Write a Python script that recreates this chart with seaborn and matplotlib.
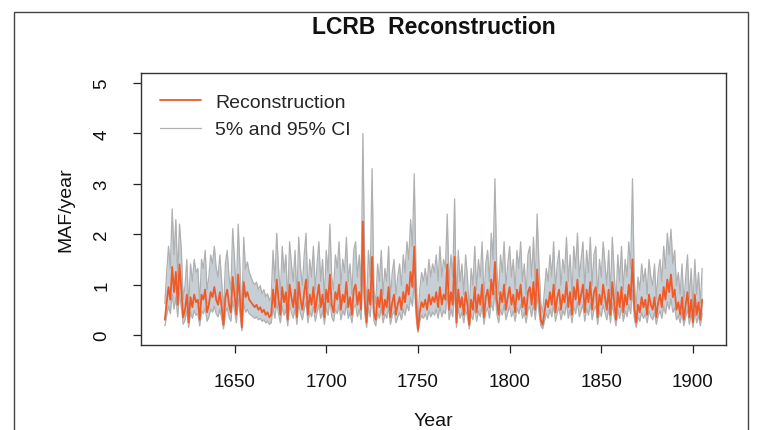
import numpy as np
import pandas as pd
import matplotlib
matplotlib.use("Agg")
import matplotlib.pyplot as plt
from matplotlib.lines import Line2D
from matplotlib.patches import Rectangle
import seaborn as sns

start_year = 1612
recon = [
    0.30, 0.65, 0.95, 0.70, 1.35, 0.85, 1.25, 0.60, 1.40, 0.90,
    0.35, 0.50, 0.80, 0.25, 0.75, 0.55, 0.80, 0.65, 0.70, 0.30,
    0.80, 0.70, 0.90, 0.45, 0.60, 0.85, 0.75, 0.95, 0.70, 0.60,
    0.85, 0.55, 0.20, 0.75, 0.90, 0.60, 0.45, 1.15, 0.80, 0.40,
    1.20, 0.70, 0.15, 1.05, 0.75, 0.85, 0.70, 0.65, 0.60, 0.55,
    0.60, 0.50, 0.55, 0.45, 0.50, 0.40, 0.45, 0.35, 0.40, 0.90,
    0.55, 1.10, 0.70, 0.40, 0.95, 0.65, 0.85, 0.30, 1.00, 0.75,
    0.55, 0.90, 0.35, 1.05, 0.70, 0.50, 0.85, 1.10, 0.40, 0.80,
    0.60, 0.95, 0.45, 0.75, 1.00, 0.55, 0.80, 0.35, 0.90, 0.65,
    1.20, 0.60, 0.45, 0.85, 0.70, 1.00, 0.50, 0.80, 0.65, 1.05,
    0.55, 0.75, 0.40, 0.90, 1.00, 0.60, 0.85, 0.50, 2.25, 0.70,
    0.25, 0.90, 0.60, 1.55, 0.45, 0.30, 0.75, 0.55, 0.90, 0.40,
    0.70, 0.55, 0.95, 0.35, 0.65, 0.80, 0.40, 0.60, 0.75, 0.50,
    0.85, 0.65, 1.00, 0.80, 1.25, 0.95, 1.75, 0.60, 0.10, 0.45,
    0.65, 0.55, 0.70, 0.50, 0.80, 0.60, 0.75, 0.65, 0.85, 0.55,
    0.95, 0.60, 0.80, 0.70, 1.40, 0.50, 0.85, 0.60, 1.55, 0.25,
    0.90, 0.55, 0.75, 0.40, 0.85, 0.60, 0.20, 0.70, 0.50, 0.95,
    0.45, 0.80, 0.60, 1.00, 0.35, 0.75, 0.90, 0.55, 1.10, 0.80,
    1.45, 0.70, 0.40, 0.85, 0.65, 1.00, 0.50, 0.75, 0.95, 0.60,
    0.80, 0.45, 0.90, 0.70, 1.00, 0.55, 0.75, 0.40, 0.85, 0.95,
    0.60, 1.05, 0.50, 1.30, 0.75, 0.30, 0.20, 0.45, 0.70, 0.55,
    0.85, 0.60, 1.00, 0.45, 0.75, 0.90, 0.50, 0.80, 0.65, 1.05,
    0.55, 0.85, 0.40, 0.95, 0.70, 1.10, 0.60, 0.80, 1.00, 0.45,
    0.90, 0.65, 1.05, 0.50, 0.85, 0.95, 0.35, 0.80, 0.60, 1.00,
    0.75, 0.50, 0.90, 0.40, 1.05, 0.65, 0.30, 0.85, 0.55, 0.95,
    0.45, 0.80, 0.60, 1.00, 0.70, 1.50, 0.55, 0.25, 0.60, 0.45,
    0.75, 0.55, 0.70, 0.40, 0.80, 0.60, 0.50, 0.75, 0.35, 0.65,
    0.80, 0.55, 0.95, 0.70, 1.10, 0.85, 1.20, 0.75, 0.90, 0.50,
    0.65, 0.40, 0.75, 0.30, 0.60, 0.85, 0.35, 0.70, 0.25, 0.80,
    0.40, 0.65, 0.30, 0.70,
]
upper = [
    0.62, 1.24, 1.76, 1.32, 2.50, 1.59, 2.29, 1.15, 2.20, 1.68,
    0.71, 0.98, 1.50, 0.54, 1.41, 1.06, 1.50, 1.24, 1.32, 0.62,
    1.50, 1.32, 1.68, 0.89, 1.15, 1.59, 1.41, 1.76, 1.32, 1.15,
    1.59, 1.06, 0.45, 1.41, 1.68, 1.15, 0.89, 2.11, 1.50, 0.80,
    2.20, 1.32, 0.36, 1.94, 1.30, 1.45, 1.25, 1.15, 1.05, 1.00,
    1.05, 0.90, 0.98, 0.82, 0.90, 0.75, 0.82, 0.68, 0.75, 1.68,
    1.06, 2.02, 1.32, 0.80, 1.76, 1.24, 1.59, 0.62, 1.85, 1.41,
    1.06, 1.68, 0.71, 1.94, 1.32, 0.98, 1.59, 2.02, 0.80, 1.50,
    1.15, 1.76, 0.89, 1.41, 1.85, 1.06, 1.50, 0.71, 1.68, 1.24,
    2.20, 1.15, 0.89, 1.59, 1.32, 1.85, 0.98, 1.50, 1.24, 1.94,
    1.06, 1.41, 0.80, 1.68, 1.85, 1.15, 1.59, 0.98, 4.00, 1.32,
    0.54, 1.68, 1.15, 3.30, 0.89, 0.62, 1.41, 1.06, 1.68, 0.80,
    1.32, 1.06, 1.76, 0.71, 1.24, 1.50, 0.80, 1.15, 1.41, 0.98,
    1.59, 1.24, 1.85, 1.50, 2.29, 1.76, 3.20, 1.15, 0.28, 0.89,
    1.24, 1.06, 1.32, 0.98, 1.50, 1.15, 1.41, 1.24, 1.59, 1.06,
    1.76, 1.15, 1.50, 1.32, 2.40, 0.98, 1.59, 1.15, 2.70, 0.54,
    1.68, 1.06, 1.41, 0.80, 1.59, 1.15, 0.45, 1.32, 0.98, 1.76,
    0.89, 1.50, 1.15, 1.85, 0.71, 1.41, 1.68, 1.06, 2.02, 1.50,
    3.10, 1.32, 0.80, 1.59, 1.24, 1.85, 0.98, 1.41, 1.76, 1.15,
    1.50, 0.89, 1.68, 1.32, 1.85, 1.06, 1.41, 0.80, 1.59, 1.76,
    1.15, 1.94, 0.98, 2.40, 1.41, 0.62, 0.45, 0.89, 1.32, 1.06,
    1.59, 1.15, 1.85, 0.89, 1.41, 1.68, 0.98, 1.50, 1.24, 1.94,
    1.06, 1.59, 0.80, 1.76, 1.32, 2.02, 1.15, 1.50, 1.85, 0.89,
    1.68, 1.24, 1.94, 0.98, 1.59, 1.76, 0.71, 1.50, 1.15, 1.85,
    1.41, 0.98, 1.68, 0.80, 1.94, 1.24, 0.62, 1.59, 1.06, 1.76,
    0.89, 1.50, 1.15, 1.85, 1.32, 3.10, 1.06, 0.54, 1.15, 0.89,
    1.41, 1.06, 1.32, 0.80, 1.50, 1.15, 0.98, 1.41, 0.71, 1.24,
    1.50, 1.06, 1.76, 1.32, 2.02, 1.59, 2.10, 1.41, 1.68, 0.98,
    1.24, 0.80, 1.41, 0.62, 1.15, 1.59, 0.71, 1.32, 0.54, 1.50,
    0.80, 1.24, 0.62, 1.32,
]
lower = [
    0.18, 0.39, 0.57, 0.42, 0.81, 0.51, 0.75, 0.36, 0.84, 0.54,
    0.21, 0.30, 0.48, 0.15, 0.45, 0.33, 0.48, 0.39, 0.42, 0.18,
    0.48, 0.42, 0.54, 0.27, 0.36, 0.51, 0.45, 0.57, 0.42, 0.36,
    0.51, 0.33, 0.12, 0.45, 0.54, 0.36, 0.27, 0.69, 0.48, 0.24,
    0.72, 0.42, 0.08, 0.63, 0.45, 0.51, 0.42, 0.39, 0.36, 0.33,
    0.36, 0.30, 0.33, 0.27, 0.30, 0.24, 0.27, 0.21, 0.24, 0.54,
    0.33, 0.66, 0.42, 0.24, 0.57, 0.39, 0.51, 0.18, 0.60, 0.45,
    0.33, 0.54, 0.21, 0.63, 0.42, 0.30, 0.51, 0.66, 0.24, 0.48,
    0.36, 0.57, 0.27, 0.45, 0.60, 0.33, 0.48, 0.21, 0.54, 0.39,
    0.72, 0.36, 0.27, 0.51, 0.42, 0.60, 0.30, 0.48, 0.39, 0.63,
    0.33, 0.45, 0.24, 0.54, 0.60, 0.36, 0.51, 0.30, 1.35, 0.42,
    0.15, 0.54, 0.36, 0.93, 0.27, 0.18, 0.45, 0.33, 0.54, 0.24,
    0.42, 0.33, 0.57, 0.21, 0.39, 0.48, 0.24, 0.36, 0.45, 0.30,
    0.51, 0.39, 0.60, 0.48, 0.75, 0.57, 1.05, 0.36, 0.05, 0.27,
    0.39, 0.33, 0.42, 0.30, 0.48, 0.36, 0.45, 0.39, 0.51, 0.33,
    0.57, 0.36, 0.48, 0.42, 0.84, 0.30, 0.51, 0.36, 0.93, 0.15,
    0.54, 0.33, 0.45, 0.24, 0.51, 0.36, 0.12, 0.42, 0.30, 0.57,
    0.27, 0.48, 0.36, 0.60, 0.21, 0.45, 0.54, 0.33, 0.66, 0.48,
    0.87, 0.42, 0.24, 0.51, 0.39, 0.60, 0.30, 0.45, 0.57, 0.36,
    0.48, 0.27, 0.54, 0.42, 0.60, 0.33, 0.45, 0.24, 0.51, 0.57,
    0.36, 0.63, 0.30, 0.78, 0.45, 0.18, 0.12, 0.27, 0.42, 0.33,
    0.51, 0.36, 0.60, 0.27, 0.45, 0.54, 0.30, 0.48, 0.39, 0.63,
    0.33, 0.51, 0.24, 0.57, 0.42, 0.66, 0.36, 0.48, 0.60, 0.27,
    0.54, 0.39, 0.63, 0.30, 0.51, 0.57, 0.21, 0.48, 0.36, 0.60,
    0.45, 0.30, 0.54, 0.24, 0.63, 0.39, 0.18, 0.51, 0.33, 0.57,
    0.27, 0.48, 0.36, 0.60, 0.42, 0.90, 0.33, 0.15, 0.36, 0.27,
    0.45, 0.33, 0.42, 0.24, 0.48, 0.36, 0.30, 0.45, 0.21, 0.39,
    0.48, 0.33, 0.57, 0.42, 0.66, 0.51, 0.72, 0.45, 0.54, 0.30,
    0.39, 0.24, 0.45, 0.18, 0.36, 0.51, 0.21, 0.42, 0.15, 0.48,
    0.24, 0.39, 0.18, 0.42,
]
years = list(range(start_year, start_year + len(recon)))
x_ticks = [1650, 1700, 1750, 1800, 1850, 1900]
y_ticks = [0, 1, 2, 3, 4, 5]
title = "LCRB  Reconstruction"
legend_labels = ["Reconstruction", "5% and 95% CI"]

df = pd.DataFrame({"Year": years, "recon": recon, "upper": upper, "lower": lower})

sns.set_style("ticks")
plt.rcParams["font.family"] = ["Liberation Sans", "DejaVu Sans"]

RED = "#f05a28"
GRAY = "#b0b0b0"
FILL = "#c6cfd5"

fig = plt.figure(figsize=(7.62, 4.31), dpi=100)
ax = fig.add_axes([141 / 762, 85 / 431, 585 / 762, 272 / 431])

ax.fill_between(df["Year"], df["lower"], df["upper"], color=FILL, lw=0, zorder=1)
sns.lineplot(data=df, x="Year", y="upper", ax=ax, color=GRAY, lw=0.9, zorder=2)
sns.lineplot(data=df, x="Year", y="lower", ax=ax, color=GRAY, lw=0.9, zorder=2)
sns.lineplot(data=df, x="Year", y="recon", ax=ax, color=RED, lw=1.3, zorder=3)

ax.set_xlim(1599, 1918)
ax.set_ylim(-0.2, 5.2)
ax.set_xticks(x_ticks)
ax.set_yticks(y_ticks)
ax.set_xticklabels([str(v) for v in x_ticks])
ax.set_yticklabels([str(v) for v in y_ticks], rotation=90, va="center")
ax.tick_params(axis="both", direction="out", length=6, width=0.9, colors="#222222",
               labelsize=13.5, labelcolor="#111111")
ax.tick_params(axis="x", pad=14)
ax.tick_params(axis="y", pad=16)
for sp in ax.spines.values():
    sp.set_visible(True)
    sp.set_color("#333333")
    sp.set_linewidth(1.0)
ax.set_xlabel("")
ax.set_ylabel("MAF/year", fontsize=14, color="#111111", labelpad=14)

handles = [Line2D([], [], color=RED, lw=1.3), Line2D([], [], color=GRAY, lw=0.9)]
ax.legend(handles, legend_labels, loc="upper left", bbox_to_anchor=(0.032, 0.925),
          frameon=False, fontsize=14, handlelength=2.1, handletextpad=0.75,
          labelspacing=0.5, borderpad=0, borderaxespad=0)

fig.text(0.5 * (141 + 726) / 762, (431 - 27) / 431, title, ha="center", va="center",
         fontsize=16.5, fontweight="bold", color="#111111")
fig.text(0.5 * (141 + 726) / 762, 1 / 431, "Year", ha="center", va="bottom",
         fontsize=14, color="#111111")

fig.patches.append(Rectangle((14 / 762, -0.1), (748 - 14) / 762, (431 - 13) / 431 + 0.1,
                             transform=fig.transFigure, fill=False, edgecolor="#444444",
                             lw=1.0, clip_on=False))

fig.savefig("out.png", dpi=100)
